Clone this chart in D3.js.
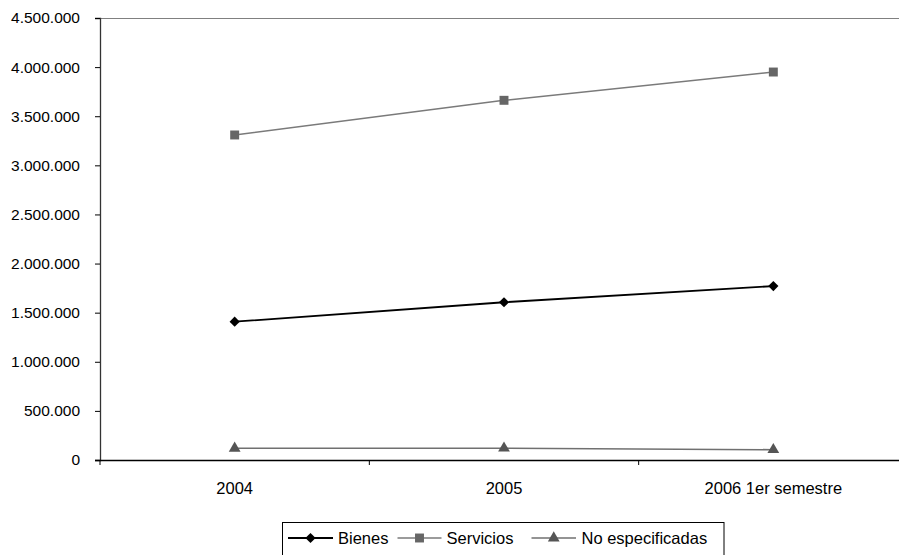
<!DOCTYPE html>
<html><head><meta charset="utf-8">
<script src="https://cdn.jsdelivr.net/npm/d3@7"></script>
<style>
html,body{margin:0;padding:0;background:#fff;overflow:hidden}
text{font-family:"Liberation Sans",Arial,sans-serif;fill:#000}
</style></head>
<body>
<svg id="c" width="899" height="555"></svg>
<script>
const categories = ["2004", "2005", "2006 1er semestre"];
const bienes = [1408000, 1606000, 1771000];
const servicios = [3309000, 3662000, 3950000];
const noEspecificadas = [119000, 120000, 105000];
const yTicks = [0, 500000, 1000000, 1500000, 2000000, 2500000, 3000000, 3500000, 4000000, 4500000];
const seriesNames = ["Bienes", "Servicios", "No especificadas"];

const svg = d3.select("#c");
const L = 100, R = 908, T = 18, B = 460;
const x = d3.scaleBand().domain(categories).range([L, R]).padding(0);
const y = d3.scaleLinear().domain([0, 4500000]).range([B, T]);
const fmt = d3.formatLocale({decimal: ",", thousands: ".", grouping: [3], currency: ["", ""]}).format(",");

// plot frame (top)
svg.append("line").attr("x1", L).attr("x2", R).attr("y1", T + 0.5).attr("y2", T + 0.5).attr("stroke", "#808080").attr("stroke-width", 1.2);

// y axis
const yAxis = d3.axisLeft(y).tickValues(yTicks).tickFormat(fmt).tickSize(5).tickPadding(15);
const gy = svg.append("g").attr("transform", `translate(${L},0)`).call(yAxis);
gy.select(".domain").attr("stroke", "#333").attr("stroke-width", 1.3);
gy.selectAll(".tick line").attr("stroke", "#000");
gy.selectAll(".tick text").attr("font-size", "15.5px").attr("fill", "#000");

// x axis
const gx = svg.append("g").attr("transform", `translate(0,${B})`);
gx.append("line").attr("x1", L - 5).attr("x2", R).attr("y1", 0.5).attr("y2", 0.5).attr("stroke", "#000").attr("stroke-width", 1.3);
const bounds = [L].concat(categories.map(c => x(c) + x.bandwidth()));
gx.selectAll("line.tk").data(bounds).join("line").attr("class", "tk")
  .attr("x1", d => d).attr("x2", d => d).attr("y1", 0).attr("y2", 5).attr("stroke", "#000");
gx.selectAll("text").data(categories).join("text")
  .attr("x", d => x(d) + x.bandwidth() / 2).attr("y", 34)
  .attr("text-anchor", "middle").attr("font-size", "16.5px").text(d => d);

const cx = c => x(c) + x.bandwidth() / 2;
const line = d3.line().x(d => cx(d.c)).y(d => y(d.v));

const series = [
  {name: seriesNames[0], values: bienes, line: "#000", fill: "#000", shape: d3.symbolSquare, size: 52, rot: 45, lw: 1.8},
  {name: seriesNames[1], values: servicios, line: "#7a7a7a", fill: "#666", shape: d3.symbolSquare, size: 80, rot: 0, lw: 1.5},
  {name: seriesNames[2], values: noEspecificadas, line: "#707070", fill: "#555", shape: d3.symbolTriangle, size: 60, rot: 0, lw: 1.5}
];

series.forEach(s => {
  const pts = categories.map((c, i) => ({c, v: s.values[i]}));
  svg.append("path").datum(pts).attr("d", line).attr("fill", "none").attr("stroke", s.line).attr("stroke-width", s.lw);
  svg.selectAll(null).data(pts).join("path")
    .attr("transform", d => `translate(${cx(d.c)},${y(d.v)}) rotate(${s.rot})`)
    .attr("d", d3.symbol().type(s.shape).size(s.size)).attr("fill", s.fill);
});

// legend
const lg = svg.append("g");
lg.append("rect").attr("x", 282.5).attr("y", 522.5).attr("width", 441.5).attr("height", 40)
  .attr("fill", "#fff").attr("stroke", "#000").attr("stroke-width", 1);
const ly = 538;
const items = [
  {x1: 288, x2: 333, tx: 338},
  {x1: 397.5, x2: 441.5, tx: 446.5},
  {x1: 531.5, x2: 576, tx: 581.5}
];
series.forEach((s, i) => {
  const it = items[i];
  lg.append("line").attr("x1", it.x1).attr("x2", it.x2).attr("y1", ly).attr("y2", ly).attr("stroke", s.line).attr("stroke-width", s.lw);
  lg.append("path").attr("transform", `translate(${(it.x1 + it.x2) / 2},${ly}) rotate(${s.rot})`)
    .attr("d", d3.symbol().type(s.shape).size(s.size)).attr("fill", s.fill);
  lg.append("text").attr("x", it.tx).attr("y", ly).attr("dy", "0.35em").attr("font-size", "16.5px").text(s.name);
});
</script>
</body></html>
